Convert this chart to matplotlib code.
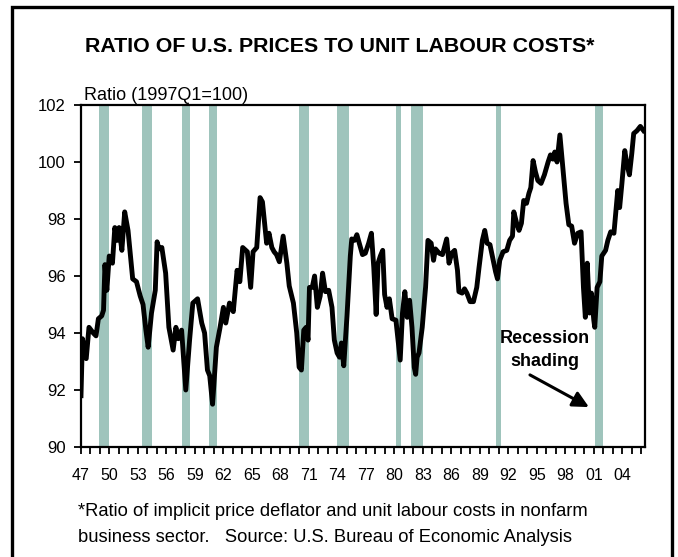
import matplotlib
matplotlib.use("Agg")
import matplotlib.pyplot as plt
from matplotlib.patches import Rectangle

plt.rcParams['font.family'] = ['Liberation Sans', 'DejaVu Sans']

# ratio of prices to unit labour costs (1997Q1=100)
years = [1947.00, 1947.15, 1947.55, 1947.84, 1948.29, 1948.58, 1948.83, 1949.18, 1949.37, 1949.52,
         1949.72, 1949.97, 1950.31, 1950.56, 1950.81, 1951.01, 1951.30, 1951.60, 1951.95, 1952.44,
         1952.84, 1953.23, 1953.53, 1953.83, 1954.07, 1954.42, 1954.82, 1955.01, 1955.21, 1955.51,
         1955.91, 1956.25, 1956.70, 1956.99, 1957.24, 1957.59, 1958.03, 1958.43, 1958.77, 1959.27,
         1959.71, 1960.01, 1960.31, 1960.55, 1960.85, 1961.25, 1961.64, 1961.99, 1962.24, 1962.63,
         1963.03, 1963.43, 1963.72, 1964.02, 1964.51, 1964.86, 1965.11, 1965.50, 1965.85, 1966.10,
         1966.54, 1966.79, 1967.09, 1967.33, 1967.58, 1967.88, 1968.28, 1968.67, 1968.92, 1969.36,
         1969.71, 1969.96, 1970.20, 1970.45, 1970.70, 1970.90, 1971.05, 1971.34, 1971.59, 1971.88,
         1972.18, 1972.43, 1972.73, 1973.07, 1973.42, 1973.67, 1973.96, 1974.21, 1974.41, 1974.66,
         1975.00, 1975.35, 1975.50, 1975.79, 1976.04, 1976.29, 1976.63, 1976.93, 1977.28, 1977.57,
         1977.82, 1978.07, 1978.27, 1978.51, 1978.76, 1978.96, 1979.21, 1979.46, 1979.75, 1980.15,
         1980.45, 1980.60, 1980.84, 1981.09, 1981.34, 1981.59, 1981.84, 1982.08, 1982.23, 1982.38,
         1982.58, 1982.92, 1983.27, 1983.52, 1983.86, 1984.11, 1984.31, 1984.70, 1985.05, 1985.49,
         1985.74, 1986.03, 1986.33, 1986.63, 1986.78, 1987.12, 1987.37, 1987.62, 1987.96, 1988.31,
         1988.66, 1988.90, 1989.25, 1989.50, 1989.75, 1990.05, 1990.39, 1990.64, 1990.84, 1991.08,
         1991.43, 1991.82, 1992.12, 1992.42, 1992.56, 1992.86, 1993.11, 1993.36, 1993.60, 1993.90,
         1994.15, 1994.35, 1994.59, 1994.84, 1995.09, 1995.43, 1995.78, 1996.17, 1996.42, 1996.67,
         1996.87, 1997.11, 1997.41, 1997.71, 1998.06, 1998.35, 1998.65, 1998.95, 1999.29, 1999.64,
         1999.89, 2000.09, 2000.29, 2000.53, 2000.73, 2000.98, 2001.08, 2001.33, 2001.62, 2001.82,
         2002.22, 2002.46, 2002.76, 2003.10, 2003.35, 2003.50, 2003.70, 2003.94, 2004.24, 2004.48,
         2004.73, 2004.98, 2005.18, 2005.53, 2005.88, 2006.22]
ratio = [91.8, 93.8, 93.1, 94.2, 94.0, 93.9, 94.5, 94.6, 94.8, 96.4,
         95.5, 96.7, 96.45, 97.7, 97.25, 97.7, 96.9, 98.25, 97.6, 95.9,
         95.8, 95.3, 95.0, 94.1, 93.5, 94.7, 95.5, 97.2, 96.95, 97.0,
         96.1, 94.2, 93.4, 94.2, 93.8, 94.1, 92.0, 93.75, 95.05, 95.2,
         94.35, 94.0, 92.7, 92.5, 91.5, 93.5, 94.2, 94.9, 94.35, 95.05,
         94.75, 96.2, 95.8, 97.0, 96.85, 95.6, 96.85, 97.0, 98.75, 98.6,
         97.15, 97.5, 97.0, 96.85, 96.75, 96.5, 97.4, 96.45, 95.65, 95.05,
         94.0, 92.8, 92.7, 94.1, 94.2, 93.75, 95.6, 95.6, 96.0, 94.9,
         95.3, 96.1, 95.45, 95.5, 94.9, 93.75, 93.3, 93.15, 93.65, 92.85,
         94.6, 96.7, 97.3, 97.25, 97.45, 97.15, 96.75, 96.8, 97.15, 97.5,
         96.3, 94.65, 96.45, 96.7, 96.9, 95.35, 94.9, 95.2, 94.5, 94.45,
         93.5, 93.05, 94.7, 95.45, 94.55, 95.15, 94.2, 92.8, 92.55, 93.15,
         93.3, 94.2, 95.6, 97.25, 97.15, 96.55, 96.95, 96.8, 96.75, 97.3,
         96.45, 96.8, 96.9, 96.2, 95.45, 95.4, 95.55, 95.4, 95.1, 95.1,
         95.6, 96.3, 97.25, 97.6, 97.15, 97.1, 96.55, 96.15, 95.9, 96.55,
         96.85, 96.9, 97.25, 97.4, 98.25, 97.85, 97.6, 97.85, 98.65, 98.55,
         98.9, 99.1, 100.05, 99.65, 99.35, 99.25, 99.55, 100.0, 100.25, 100.1,
         100.35, 100.0, 100.95, 99.85, 98.55, 97.8, 97.75, 97.15, 97.5, 97.55,
         95.6, 94.55, 96.45, 94.7, 95.4, 94.45, 94.2, 95.6, 95.8, 96.7,
         96.9, 97.25, 97.55, 97.5, 98.45, 99.0, 98.4, 99.25, 100.4, 99.9,
         99.55, 100.3, 101.0, 101.1, 101.25, 101.1]

# recession periods (start, end) in years
recessions = [(1948.9, 1949.95), (1953.4, 1954.45), (1957.65, 1958.45), (1960.5, 1961.3),
              (1970.0, 1971.0), (1974.0, 1975.2), (1980.15, 1980.65), (1981.75, 1983.0),
              (1990.7, 1991.2), (2001.1, 2001.9)]

tick_years = list(range(1947, 2005, 3))
tick_labels = ['47', '50', '53', '56', '59', '62', '65', '68', '71', '74',
               '77', '80', '83', '86', '89', '92', '95', '98', '01', '04']
y_ticks = [90, 92, 94, 96, 98, 100, 102]

W, H = 678, 557
fig = plt.figure(figsize=(W / 100, H / 100), dpi=100)
ax = fig.add_axes([81 / W, 1 - 447 / H, 564 / W, 342 / H])

for start, end in recessions:
    ax.axvspan(start, end, color='#9fc4bc', lw=0, zorder=1)
ax.plot(years, ratio, color='black', lw=3.5, solid_joinstyle='round', zorder=3)

ax.set_xlim(1947.0, 2006.37)
ax.set_ylim(90, 102)
ax.set_yticks(y_ticks)
ax.set_yticklabels([str(v) for v in y_ticks], fontsize=12)
ax.set_xticks(tick_years)
ax.set_xticklabels(tick_labels, fontsize=11.5)
ax.set_xticks(range(1947, 2007), minor=True)
ax.tick_params(axis='x', which='both', direction='out', length=5, width=1.3, pad=10)
ax.tick_params(axis='y', direction='out', length=5, width=1.3, pad=6)
for side in ax.spines.values():
    side.set_linewidth(1.6)

# annotation
ax.text(1995.84, 93.4, 'Recession\nshading', ha='center', va='center', fontsize=13,
        fontweight='bold', linespacing=1.5, zorder=4)
ax.annotate('', xy=(2000.47, 91.40), xytext=(1994.26, 92.53),
            arrowprops=dict(arrowstyle='-|>', color='black', lw=2.2, mutation_scale=24,
                            shrinkA=0, shrinkB=0), zorder=4)

fig.text(339.5 / W, 1 - 46 / H, 'RATIO OF U.S. PRICES TO UNIT LABOUR COSTS*',
         ha='center', va='center', fontsize=15.4, fontweight='bold')
fig.text(84 / W, 1 - 95 / H, 'Ratio (1997Q1=100)', ha='left', va='center', fontsize=13)
fig.text(78 / W, 1 - 511 / H, '*Ratio of implicit price deflator and unit labour costs in nonfarm',
         ha='left', va='center', fontsize=13.2)
fig.text(78 / W, 1 - 537 / H, 'business sector.   Source: U.S. Bureau of Economic Analysis',
         ha='left', va='center', fontsize=13.2)

# outer frame
fig.patches.append(Rectangle((11.5 / W, -0.1), (672 - 11.5) / W, 1.1 - 6.5 / H,
                             transform=fig.transFigure, fill=False, lw=2.4,
                             edgecolor='black'))

fig.savefig('out.png', dpi=100)
